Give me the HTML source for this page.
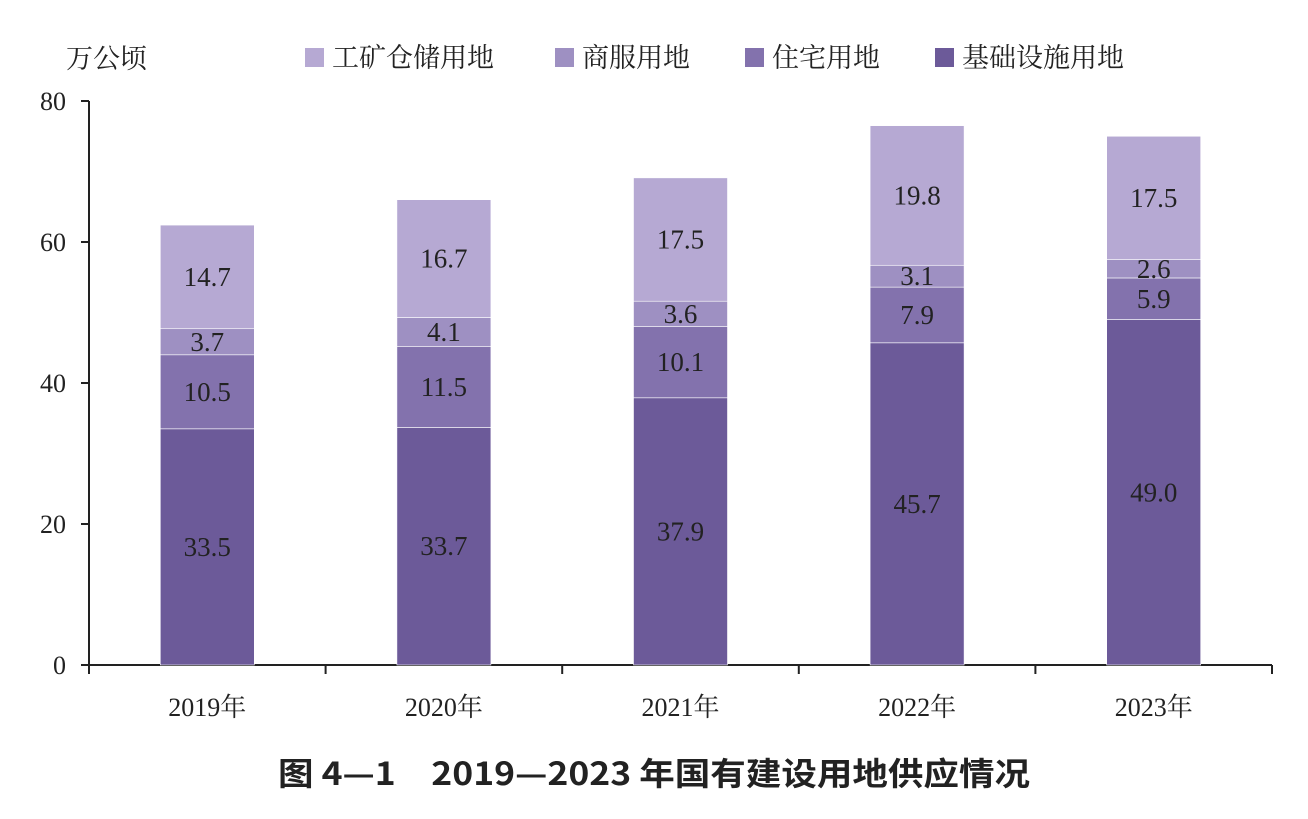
<!DOCTYPE html>
<html><head><meta charset="utf-8"><style>
body{margin:0;background:#fff;width:1308px;height:819px;overflow:hidden}
svg{display:block}
</style></head><body>
<svg id="chart" width="1308" height="819" xmlns="http://www.w3.org/2000/svg">
<text x="66" y="68" font-family="'Liberation Serif','Noto Serif CJK SC',serif" font-size="27" fill="#222">万公顷</text>
<g id="legend"></g>
<g id="axes"></g>
<g id="bars"></g>
<text x="278" y="785" textLength="752" lengthAdjust="spacingAndGlyphs" font-family="'Noto Sans CJK SC',sans-serif" font-weight="bold" font-size="32" fill="#222">图 4—1　2019—2023 年国有建设用地供应情况</text>
</svg>
<script>
const categories=["2019年","2020年","2021年","2022年","2023年"];
const infra=[33.5,33.7,37.9,45.7,49.0];
const resid=[10.5,11.5,10.1,7.9,5.9];
const comm=[3.7,4.1,3.6,3.1,2.6];
const indus=[14.7,16.7,17.5,19.8,17.5];
const seriesNames=["工矿仓储用地","商服用地","住宅用地","基础设施用地"];
const yTicks=[0,20,40,60,80];
const NS="http://www.w3.org/2000/svg";
const x0=89,x1=1272,yBase=665,yTop=101,yMax=80;
const y=v=>yBase-(v/yMax)*(yBase-yTop);
const bw=(x1-x0)/categories.length;
const xc=i=>x0+bw*(i+0.5);
function mk(tag,attrs,parent,text){const e=document.createElementNS(NS,tag);for(const k in attrs)e.setAttribute(k,attrs[k]);if(text!==undefined)e.textContent=text;parent.appendChild(e);return e;}
const colors=["#b6a9d3","#9e90c2","#8372ad","#6c5a99"];
const serif="'Liberation Serif','Noto Serif CJK SC',serif";
const axes=document.getElementById('axes'),bars=document.getElementById('bars'),legend=document.getElementById('legend');
let l=mk('line',{x1:x0,y1:yTop,x2:x0,y2:yBase,stroke:'#222','stroke-width':2},axes);


l=mk('line',{x1:x0,y1:yBase,x2:x1,y2:yBase,stroke:'#222','stroke-width':2},axes);


yTicks.forEach(t=>{
 let tk=mk('line',{x1:x0-8,y1:y(t),x2:x0,y2:y(t),stroke:'#222','stroke-width':2},axes);
 
 
 let tx=mk('text',{x:66,y:y(t)+9,'text-anchor':'end','font-family':serif,'font-size':26,fill:'#222'},axes,t);
 
 
});
for(let i=0;i<=categories.length;i++){
 let tk=mk('line',{x1:x0+bw*i,y1:yBase,x2:x0+bw*i,y2:yBase+9,stroke:'#222','stroke-width':2},axes);
 
 
}
categories.forEach((c,i)=>{
 let tx=mk('text',{x:xc(i),y:716,'text-anchor':'middle','font-family':serif,'font-size':26,fill:'#222'},axes,c);
 
 
 const stack=[infra[i],resid[i],comm[i],indus[i]];
 const cols=[colors[3],colors[2],colors[1],colors[0]];
 const names=['infra','resid','comm','indus'];
 let cum=0;
 stack.forEach((v,k)=>{
  const yt=y(cum+v),yb=y(cum);
  let r=mk('rect',{x:xc(i)-47,y:yt,width:94,height:yb-yt,fill:cols[k],stroke:'#fff','stroke-width':0.6},bars);
  
  
  let lb=mk('text',{x:xc(i),y:(yt+yb)/2+9,'text-anchor':'middle','font-family':serif,'font-size':27,fill:'#222'},bars,v.toFixed(1));
  
  
  cum+=v;
 });
});
const lx=[305,555,745,935];
seriesNames.forEach((n,k)=>{
 let s=mk('rect',{x:lx[k],y:48,width:19,height:19,fill:colors[k]},legend);
 
 
 let t=mk('text',{x:lx[k]+27,y:67,'font-family':serif,'font-size':27,fill:'#222'},legend,n);
 
 
});
</script>
</body></html>
